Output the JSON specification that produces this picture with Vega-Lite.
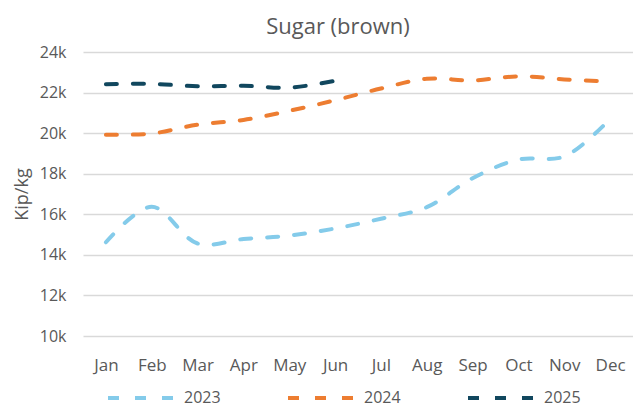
{
  "$schema": "https://vega.github.io/schema/vega-lite/v6.json",
  "width": 550,
  "height": 284,
  "autosize": "none",
  "padding": {"left": 83, "top": 52, "right": 0, "bottom": 67},
  "background": "white",
  "title": {
    "text": "Sugar (brown)",
    "anchor": "middle",
    "frame": "group",
    "dx": -20,
    "fontSize": 22,
    "font": "Open Sans",
    "fontWeight": "normal",
    "color": "#595959",
    "baseline": "alphabetic",
    "offset": -12
  },
  "config": {
    "view": {"stroke": null},
    "font": "Open Sans"
  },
  "data": {
    "values": [
      {"month": "Jan", "year": "2023", "price": 14620},
      {"month": "Feb", "year": "2023", "price": 16370},
      {"month": "Mar", "year": "2023", "price": 14560},
      {"month": "Apr", "year": "2023", "price": 14780},
      {"month": "May", "year": "2023", "price": 14950},
      {"month": "Jun", "year": "2023", "price": 15300},
      {"month": "Jul", "year": "2023", "price": 15780},
      {"month": "Aug", "year": "2023", "price": 16350},
      {"month": "Sep", "year": "2023", "price": 17780},
      {"month": "Oct", "year": "2023", "price": 18700},
      {"month": "Nov", "year": "2023", "price": 18850},
      {"month": "Dec", "year": "2023", "price": 20700},
      {"month": "Jan", "year": "2024", "price": 19920},
      {"month": "Feb", "year": "2024", "price": 19980},
      {"month": "Mar", "year": "2024", "price": 20420},
      {"month": "Apr", "year": "2024", "price": 20650},
      {"month": "May", "year": "2024", "price": 21100},
      {"month": "Jun", "year": "2024", "price": 21620},
      {"month": "Jul", "year": "2024", "price": 22200},
      {"month": "Aug", "year": "2024", "price": 22680},
      {"month": "Sep", "year": "2024", "price": 22600},
      {"month": "Oct", "year": "2024", "price": 22800},
      {"month": "Nov", "year": "2024", "price": 22650},
      {"month": "Dec", "year": "2024", "price": 22540},
      {"month": "Jan", "year": "2025", "price": 22410},
      {"month": "Feb", "year": "2025", "price": 22430},
      {"month": "Mar", "year": "2025", "price": 22310},
      {"month": "Apr", "year": "2025", "price": 22340},
      {"month": "May", "year": "2025", "price": 22240},
      {"month": "Jun", "year": "2025", "price": 22580}
    ]
  },
  "mark": {
    "type": "line",
    "interpolate": "catmull-rom",
    "strokeWidth": 4,
    "strokeDash": [11, 16],
    "strokeCap": "round"
  },
  "encoding": {
    "x": {
      "field": "month",
      "type": "ordinal",
      "sort": ["Jan","Feb","Mar","Apr","May","Jun","Jul","Aug","Sep","Oct","Nov","Dec"],
      "scale": {"type": "point", "padding": 0.5},
      "axis": {
        "title": null,
        "labelAngle": 0,
        "domain": false,
        "ticks": false,
        "tickSize": 0,
        "grid": false,
        "labelPadding": 21,
        "labelFontSize": 17,
        "labelColor": "#595959",
        "labelFont": "Open Sans"
      }
    },
    "y": {
      "field": "price",
      "type": "quantitative",
      "scale": {"domain": [10000, 24000], "nice": false, "zero": false},
      "axis": {
        "title": "Kip/kg",
        "titleFontSize": 18,
        "titleFontWeight": "normal",
        "titleColor": "#595959",
        "titleFont": "Open Sans",
        "titlePadding": 8,
        "values": [10000, 12000, 14000, 16000, 18000, 20000, 22000, 24000],
        "format": "~s",
        "domain": false,
        "ticks": false,
        "tickSize": 0,
        "labelPadding": 17,
        "labelFontSize": 16,
        "labelColor": "#595959",
        "labelFont": "Open Sans",
        "gridColor": "#d9d9d9",
        "gridWidth": 1.5
      }
    },
    "color": {
      "field": "year",
      "type": "nominal",
      "scale": {"domain": ["2023", "2024", "2025"], "range": ["#84cbea", "#ed7d31", "#11475e"]},
      "legend": {
        "title": null,
        "orient": "none",
        "direction": "horizontal",
        "legendX": 23,
        "legendY": 310,
        "symbolType": "stroke",
        "symbolSize": 4624,
        "symbolStrokeWidth": 4,
        "symbolDash": [11, 16],
        "labelFontSize": 16,
        "labelColor": "#595959",
        "labelFont": "Open Sans",
        "labelOffset": 6,
        "columnPadding": 59
      }
    }
  }
}
